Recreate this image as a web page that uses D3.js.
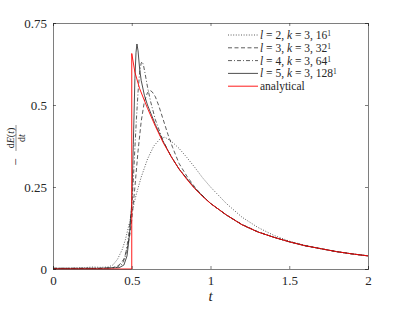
<!DOCTYPE html>
<html>
<head>
<meta charset="utf-8">
<script src="https://cdn.jsdelivr.net/npm/d3@7/dist/d3.min.js"></script>
<style>
  body { margin: 0; background: #fff; }
  svg text { font-family: 'Liberation Serif', 'DejaVu Serif', serif !important; fill: #262626; }
</style>
</head>
<body>
<svg id="chart"></svg>
<script>
var width = 407, height = 309;
var margin = {top: 23, right: 39, bottom: 40, left: 53};
var w = width - margin.left - margin.right;
var h = height - margin.top - margin.bottom;

var xTicks = [0, 0.5, 1, 1.5, 2];
var xTickLabels = ["0", "0.5", "1", "1.5", "2"];
var yTicks = [0, 0.25, 0.5, 0.75];
var yTickLabels = ["0", "0.25", "0.5", "0.75"];

// l = 2, k = 3, 16^1 (dotted)
var tL2 = [0, 0.1, 0.2, 0.25, 0.3, 0.35, 0.38, 0.41, 0.44, 0.46, 0.48, 0.5, 0.53, 0.56, 0.6, 0.64, 0.68, 0.71, 0.75, 0.8, 0.85, 0.9, 0.95, 1.0, 1.1, 1.2, 1.3, 1.4, 1.5, 1.6, 1.7, 1.8, 1.9, 2.0];
var vL2 = [0.002, 0.002, 0.004, 0.006, 0.005, 0.006, 0.012, 0.03, 0.06, 0.09, 0.13, 0.17, 0.23, 0.28, 0.335, 0.375, 0.397, 0.402, 0.39, 0.368, 0.34, 0.31, 0.278, 0.25, 0.2, 0.158, 0.127, 0.103, 0.085, 0.072, 0.062, 0.053, 0.046, 0.040];
// l = 3, k = 3, 32^1 (dashed)
var tL3 = [0, 0.3, 0.38, 0.42, 0.45, 0.47, 0.49, 0.5, 0.52, 0.54, 0.56, 0.58, 0.6, 0.615, 0.63, 0.65, 0.67, 0.7, 0.73, 0.76, 0.8, 0.85, 0.9, 0.95, 1.0, 1.1, 1.2, 1.3, 1.4, 1.5, 1.6, 1.7, 1.8, 1.9, 2.0];
var vL3 = [0.002, 0.002, 0.004, 0.012, 0.03, 0.06, 0.11, 0.15, 0.25, 0.36, 0.45, 0.51, 0.538, 0.545, 0.54, 0.525, 0.5, 0.455, 0.41, 0.37, 0.322, 0.283, 0.25, 0.222, 0.2, 0.165, 0.136, 0.114, 0.097, 0.083, 0.071, 0.062, 0.053, 0.046, 0.040];
// l = 4, k = 3, 64^1 (dash-dot)
var tL4 = [0, 0.3, 0.4, 0.44, 0.46, 0.48, 0.5, 0.51, 0.52, 0.53, 0.54, 0.55, 0.56, 0.567, 0.575, 0.585, 0.6, 0.62, 0.65, 0.7, 0.75, 0.8, 0.9, 1.0, 1.1, 1.2, 1.3, 1.4, 1.5, 1.6, 1.7, 1.8, 1.9, 2.0];
var vL4 = [0.002, 0.002, 0.004, 0.015, 0.04, 0.1, 0.19, 0.27, 0.37, 0.46, 0.54, 0.6, 0.628, 0.632, 0.62, 0.595, 0.555, 0.51, 0.455, 0.39, 0.343, 0.305, 0.246, 0.2, 0.165, 0.135, 0.113, 0.097, 0.083, 0.071, 0.062, 0.053, 0.046, 0.040];
// l = 5, k = 3, 128^1 (solid)
var tL5 = [0, 0.3, 0.42, 0.45, 0.47, 0.48, 0.49, 0.5, 0.51, 0.52, 0.527, 0.533, 0.54, 0.55, 0.56, 0.58, 0.6, 0.65, 0.7, 0.75, 0.8, 0.9, 1.0, 1.1, 1.2, 1.3, 1.4, 1.5, 1.6, 1.7, 1.8, 1.9, 2.0];
var vL5 = [0.002, 0.002, 0.004, 0.012, 0.04, 0.08, 0.13, 0.2, 0.38, 0.58, 0.66, 0.686, 0.665, 0.61, 0.575, 0.53, 0.5, 0.44, 0.388, 0.343, 0.305, 0.246, 0.2, 0.165, 0.135, 0.113, 0.097, 0.083, 0.071, 0.062, 0.053, 0.046, 0.040];
// analytical (red)
var tAn = [0, 0.5, 0.5, 0.52, 0.55, 0.6, 0.65, 0.7, 0.75, 0.8, 0.85, 0.9, 0.95, 1.0, 1.1, 1.2, 1.3, 1.4, 1.5, 1.6, 1.7, 1.8, 1.9, 2.0];
var vAn = [0, 0, 0.657, 0.6, 0.55, 0.49, 0.435, 0.385, 0.343, 0.305, 0.273, 0.245, 0.221, 0.2, 0.165, 0.135, 0.113, 0.097, 0.083, 0.071, 0.062, 0.053, 0.046, 0.040];

var series = [
  {t: tL2, v: vL2, color: "#333", dash: "1,1.6", width: 0.8},
  {t: tL3, v: vL3, color: "#333", dash: "4,2.5", width: 0.8},
  {t: tL4, v: vL4, color: "#333", dash: "4,2,1,2", width: 0.8},
  {t: tL5, v: vL5, color: "#222", dash: null, width: 0.8},
  {t: tAn, v: vAn, color: "#ff0000", dash: null, width: 0.9}
];

var svg = d3.select("#chart").attr("width", width).attr("height", height);
var g = svg.append("g").attr("transform", "translate(" + margin.left + "," + margin.top + ")");

var x = d3.scaleLinear().domain([0, 2]).range([0, w]);
var y = d3.scaleLinear().domain([0, 0.75]).range([h, 0]);

var line = d3.line().x(function(d) { return x(d[0]); }).y(function(d) { return y(d[1]); });

g.selectAll("path.curve").data(series).enter().append("path")
  .attr("class", "curve")
  .attr("d", function(s) { return line(d3.zip(s.t, s.v)); })
  .attr("fill", "none")
  .attr("stroke", function(s) { return s.color; })
  .attr("stroke-width", function(s) { return s.width; })
  .attr("stroke-dasharray", function(s) { return s.dash; });

// axes, ticks inside, box on
var xAxis = g.append("g").attr("transform", "translate(0," + h + ")")
  .call(d3.axisBottom(x).tickValues(xTicks).tickSize(-3).tickPadding(7)
    .tickFormat(function(d, i) { return xTickLabels[i]; }));
var yAxis = g.append("g")
  .call(d3.axisLeft(y).tickValues(yTicks).tickSize(-3).tickPadding(6)
    .tickFormat(function(d, i) { return yTickLabels[i]; }));
var xTop = g.append("g").call(d3.axisTop(x).tickValues(xTicks).tickSize(-3).tickFormat(""));
var yRight = g.append("g").attr("transform", "translate(" + w + ",0)")
  .call(d3.axisRight(y).tickValues(yTicks).tickSize(-3).tickFormat(""));

[xAxis, yAxis, xTop, yRight].forEach(function(a) {
  a.attr("font-family", null);
  a.selectAll("path.domain").attr("stroke", "#262626").attr("stroke-width", 0.6);
  a.selectAll(".tick line").attr("stroke", "#262626").attr("stroke-width", 0.6);
  a.selectAll(".tick text").attr("font-size", 13).attr("fill", "#262626");
});

// x label
svg.append("text").attr("x", margin.left + w / 2).attr("y", 301)
  .attr("text-anchor", "middle").attr("font-style", "italic").attr("font-size", 15).text("t");

// y label: - dE(t)/dt
var yl = svg.append("g").attr("transform", "translate(16,138) rotate(-90)");
yl.append("text").attr("x", -24).attr("y", 4).attr("text-anchor", "middle").attr("font-size", 13).text("\u2212");
var num = yl.append("text").attr("x", 0).attr("y", -2.5).attr("text-anchor", "middle").attr("font-size", 10);
num.append("tspan").text("d");
num.append("tspan").attr("font-style", "italic").text("E");
num.append("tspan").text("(");
num.append("tspan").attr("font-style", "italic").text("t");
num.append("tspan").text(")");
yl.append("line").attr("x1", -13).attr("x2", 13).attr("y1", 0).attr("y2", 0)
  .attr("stroke", "#262626").attr("stroke-width", 0.5);
var den = yl.append("text").attr("x", 0).attr("y", 8.5).attr("text-anchor", "middle").attr("font-size", 10);
den.append("tspan").text("d");
den.append("tspan").attr("font-style", "italic").text("t");

// legend
var legendLabels = [["2", "16"], ["3", "32"], ["4", "64"], ["5", "128"]];
var leg = svg.append("g").attr("transform", "translate(228,35)");
series.forEach(function(s, i) {
  var row = leg.append("g").attr("transform", "translate(0," + (i * 12.8) + ")");
  row.append("line").attr("x1", 0).attr("x2", 30).attr("y1", 0).attr("y2", 0)
    .attr("stroke", s.color).attr("stroke-width", s.width).attr("stroke-dasharray", s.dash);
  var tx = row.append("text").attr("x", 32).attr("y", 4).attr("font-size", 11.5);
  if (i < 4) {
    tx.append("tspan").attr("font-style", "italic").text("l");
    tx.append("tspan").text(" = " + legendLabels[i][0] + ", ");
    tx.append("tspan").attr("font-style", "italic").text("k");
    tx.append("tspan").text(" = 3, " + legendLabels[i][1]);
    tx.append("tspan").attr("font-size", 7.5).attr("dy", -3).text("1");
  } else {
    tx.text("analytical");
  }
});
</script>
</body>
</html>
